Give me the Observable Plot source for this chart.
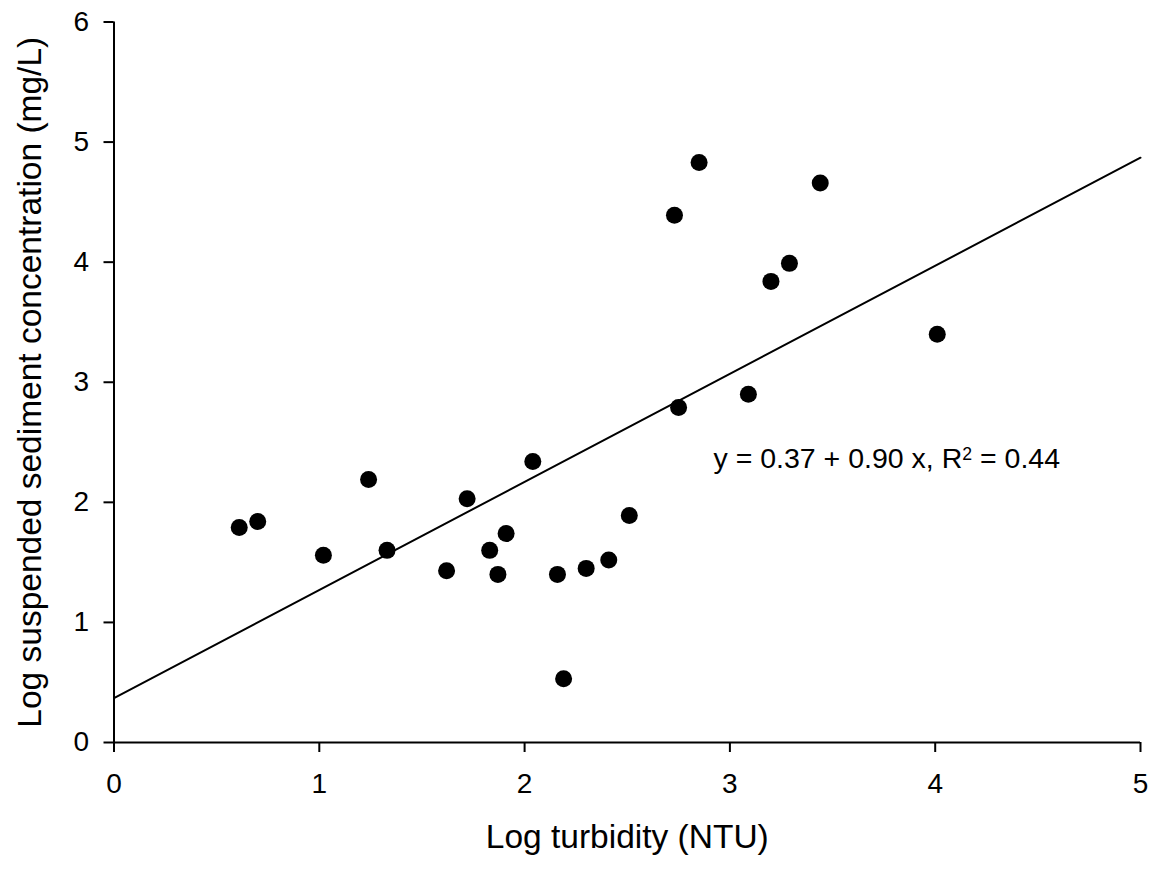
<!DOCTYPE html>
<html><head><meta charset="utf-8">
<script src="https://cdn.jsdelivr.net/npm/d3@7"></script>
<script src="https://cdn.jsdelivr.net/npm/@observablehq/plot@0.6"></script>
<style>
html,body{margin:0;padding:0;background:#fff}
</style>
</head><body><div id="chart"></div>
<script>
const turbidity = [0.61, 0.70, 1.02, 1.24, 1.33, 1.62, 1.72, 1.83, 1.87, 1.91, 2.04, 2.16, 2.19, 2.30, 2.41, 2.51, 2.73, 2.75, 2.85, 3.09, 3.20, 3.29, 3.44, 4.01];
const ssc       = [1.79, 1.84, 1.56, 2.19, 1.60, 1.43, 2.03, 1.60, 1.40, 1.74, 2.34, 1.40, 0.53, 1.45, 1.52, 1.89, 4.39, 2.79, 4.83, 2.90, 3.84, 3.99, 4.66, 3.40];
const xTicks = [0, 1, 2, 3, 4, 5];
const yTicks = [0, 1, 2, 3, 4, 5, 6];
const fitIntercept = 0.37;
const fitSlope = 0.90;
const fitRange = [0, 5];
const xTitle = "Log turbidity (NTU)";
const yTitle = "Log suspended sediment concentration (mg/L)";
const equationText = "y = 0.37 + 0.90 x, R\u00B2 = 0.44";
const equationAt = {x: 2.92, y: 2.36};

const points = turbidity.map((x, i) => ({x, y: ssc[i]}));
const fit = fitRange.map(x => ({x, y: fitIntercept + fitSlope * x}));

const plot = Plot.plot({
  width: 1153, height: 869,
  marginLeft: 113.5, marginRight: 13, marginTop: 21.5, marginBottom: 127,
  style: {fontFamily: '"Liberation Sans", Arial, sans-serif', fontSize: "28px", color: "#000", background: "#fff"},
  x: {domain: [0, 5]},
  y: {domain: [0, 6]},
  marks: [
    Plot.line(fit, {x: "x", y: "y", stroke: "#000", strokeWidth: 2}),
    Plot.dot(points, {x: "x", y: "y", r: 8.5, fill: "#000"}),
    Plot.axisX({ticks: xTicks, tickSize: 10, tickPadding: 21, tickFormat: d => String(d), label: null, strokeWidth: 2, fontSize: 28}),
    Plot.axisY({ticks: yTicks, tickSize: 10, tickPadding: 15, tickFormat: d => String(d), label: null, strokeWidth: 2, fontSize: 28}),
    Plot.ruleX([0], {stroke: "#000", strokeWidth: 2}),
    Plot.ruleY([0], {stroke: "#000", strokeWidth: 2}),
    Plot.text([xTitle], {text: d => d, frameAnchor: "bottom", lineAnchor: "middle", textAnchor: "middle", dy: 94.5, fontSize: 33.5}),
    Plot.text([yTitle], {text: d => d, frameAnchor: "left", lineAnchor: "middle", textAnchor: "middle", dx: -84, rotate: -90, fontSize: 33.5}),
    Plot.text([{...equationAt, label: equationText}], {x: "x", y: "y", text: "label", textAnchor: "start", fontSize: 28.5})
  ]
});
document.getElementById("chart").appendChild(plot);

// render the R² as a true superscript
d3.select(plot).selectAll("text").each(function () {
  const t = d3.select(this);
  if (t.text() === equationText) {
    const [before, after] = equationText.split("\u00B2");
    t.text(null);
    t.append("tspan").text(before);
    t.append("tspan").attr("dy", "-0.45em").attr("font-size", "0.62em").text("2");
    t.append("tspan").attr("dy", "0.279em").text(after);
  }
});
</script>
</body></html>
